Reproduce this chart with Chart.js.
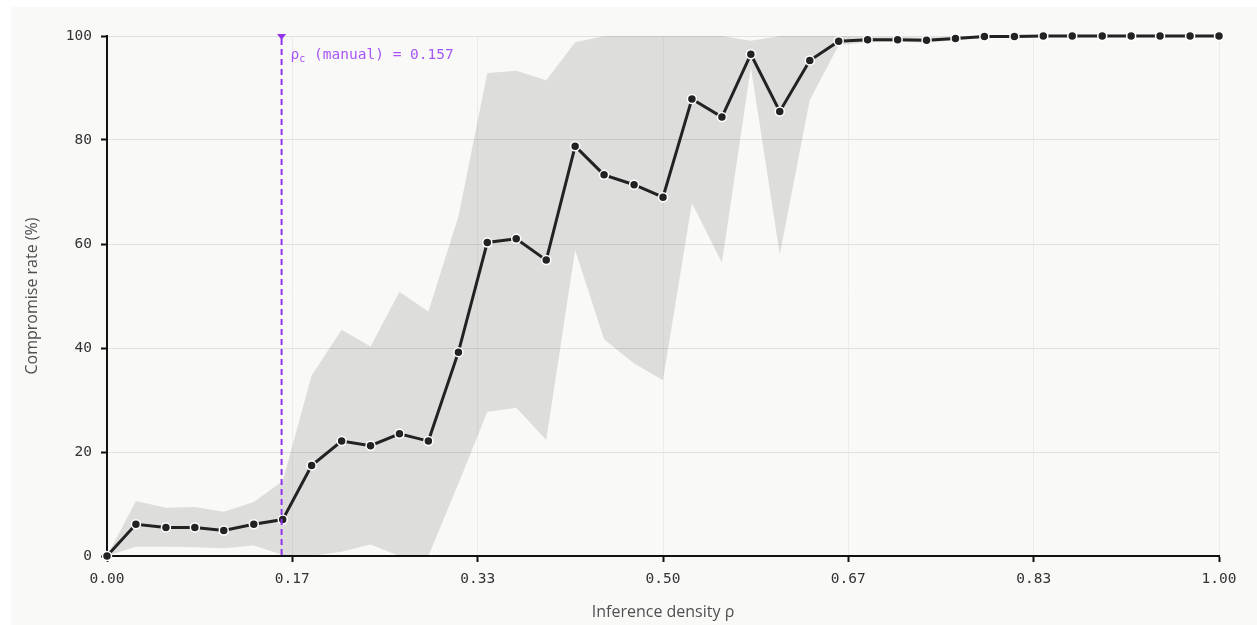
<!DOCTYPE html>
<html>
<head>
<meta charset="utf-8">
<script src="https://cdn.jsdelivr.net/npm/chart.js@4.4.1/dist/chart.umd.min.js"></script>
<style>
  html, body { margin: 0; padding: 0; background: #ffffff; }
  #panel {
    position: absolute; left: 11px; top: 7px;
    width: 1246px; height: 618px;
    background: #f9f9f8;
  }
  #chart { display: block; }
</style>
</head>
<body>
<div id="panel"><canvas id="chart" width="1246" height="618"></canvas></div>
<script>
// Inference density sweep (x) and compromise rate statistics (%)
const density = [0, 0.026, 0.053, 0.079, 0.105, 0.132, 0.158, 0.184, 0.211, 0.237,
  0.263, 0.289, 0.316, 0.342, 0.368, 0.395, 0.421, 0.447, 0.474, 0.5,
  0.526, 0.553, 0.579, 0.605, 0.632, 0.658, 0.684, 0.711, 0.737, 0.763,
  0.789, 0.816, 0.842, 0.868, 0.895, 0.921, 0.947, 0.974, 1];

const meanRate = [0, 6.1, 5.5, 5.5, 4.9, 6.1, 7.0, 17.4, 22.1, 21.2,
  23.5, 22.1, 39.2, 60.3, 61.0, 56.9, 78.8, 73.3, 71.4, 69.0,
  87.9, 84.4, 96.5, 85.5, 95.3, 99.0, 99.3, 99.3, 99.2, 99.5,
  99.9, 99.9, 100, 100, 100, 100, 100, 100, 100];

const upperRate = [0, 10.6, 9.3, 9.4, 8.5, 10.4, 14.4, 34.7, 43.5, 40.3,
  50.8, 47.0, 65.3, 92.9, 93.3, 91.5, 98.8, 100, 100, 100,
  100, 100, 99.1, 100, 100, 100, 99.8, 99.8, 99.7, 99.9,
  100, 100, 100, 100, 100, 100, 100, 100, 100];

const lowerRate = [0, 1.8, 1.8, 1.7, 1.5, 2.0, 0.2, 0, 0.8, 2.2,
  0, 0, 13.9, 27.7, 28.5, 22.3, 58.8, 41.7, 37.0, 33.8,
  67.9, 56.4, 94.0, 58.0, 87.7, 98.2, 98.8, 98.9, 98.7, 99.2,
  99.7, 99.8, 100, 100, 100, 100, 100, 100, 100];

const xTickValues = [0, 1 / 6, 2 / 6, 3 / 6, 4 / 6, 5 / 6, 1];
const yTickValues = [0, 20, 40, 60, 80, 100];

const rhoCritical = 0.157;

const monoFont = '"DejaVu Sans Mono", monospace';
const sansFont = '"Open Sans", "Noto Sans", sans-serif';

const toPoints = (ys) => density.map((x, i) => ({ x: x, y: ys[i] }));

// Dashed marker for the manually chosen critical density
const criticalMarker = {
  id: 'criticalMarker',
  afterDatasetsDraw(chart) {
    const { ctx, chartArea, scales } = chart;
    const x = scales.x.getPixelForValue(rhoCritical);
    const top = chartArea.top;
    ctx.save();
    ctx.strokeStyle = '#9333ea';
    ctx.lineWidth = 2;
    ctx.setLineDash([6, 4]);
    ctx.beginPath();
    ctx.moveTo(x, top + 3);
    ctx.lineTo(x, chartArea.bottom);
    ctx.stroke();
    ctx.setLineDash([]);
    ctx.fillStyle = '#9333ea';
    ctx.beginPath();
    ctx.moveTo(x - 4.5, top - 2);
    ctx.lineTo(x + 4.5, top - 2);
    ctx.lineTo(x, top + 4);
    ctx.closePath();
    ctx.fill();

    // label: ρ_c (manual) = 0.157
    ctx.fillStyle = '#a855f7';
    ctx.textBaseline = 'alphabetic';
    ctx.textAlign = 'left';
    const tx = x + 9;
    const ty = top + 23;
    ctx.font = '14.5px ' + monoFont;
    ctx.fillText('ρ', tx, ty);
    const w1 = ctx.measureText('ρ').width;
    ctx.font = '10px ' + monoFont;
    ctx.fillText('c', tx + w1, ty + 3);
    const w2 = ctx.measureText('c').width;
    ctx.font = '14.5px ' + monoFont;
    ctx.fillText(' (manual) = ' + rhoCritical.toFixed(3), tx + w1 + w2, ty);
    ctx.restore();
  }
};

new Chart(document.getElementById('chart'), {
  type: 'line',
  data: {
    datasets: [
      {
        label: 'Compromise rate',
        data: toPoints(meanRate),
        borderColor: '#222222',
        borderWidth: 3,
        pointRadius: 4.5,
        pointBackgroundColor: '#222222',
        pointBorderColor: '#ffffff',
        pointBorderWidth: 1.5,
        fill: false,
        clip: false,
        tension: 0
      },
      {
        label: 'Upper',
        data: toPoints(upperRate),
        borderWidth: 0,
        borderColor: 'rgba(0,0,0,0)',
        pointRadius: 0,
        backgroundColor: 'rgba(0,0,0,0.11)',
        fill: '+1',
        tension: 0
      },
      {
        label: 'Lower',
        data: toPoints(lowerRate),
        borderWidth: 0,
        borderColor: 'rgba(0,0,0,0)',
        pointRadius: 0,
        fill: false,
        tension: 0
      }
    ]
  },
  options: {
    responsive: false,
    animation: false,
    layout: { padding: { left: 0, right: 38, top: 29, bottom: 0 } },
    plugins: {
      legend: { display: false },
      tooltip: { enabled: false }
    },
    scales: {
      x: {
        type: 'linear',
        min: 0,
        max: 1,
        afterBuildTicks(scale) { scale.ticks = xTickValues.map(v => ({ value: v })); },
        afterFit(scale) { scale.height = 69; },
        grid: { color: '#ececeb', lineWidth: 1, tickLength: 6, tickColor: '#111111', tickWidth: 2 },
        border: { color: '#111111', width: 2 },
        ticks: {
          padding: 9,
          color: '#333333',
          font: { family: monoFont, size: 14.5 },
          maxRotation: 0,
          callback: (v) => Number(v).toFixed(2)
        },
        title: {
          display: true,
          text: 'Inference density ρ',
          color: '#505050',
          font: { family: sansFont, size: 16 },
          padding: { top: 0, bottom: 3 }
        }
      },
      y: {
        min: 0,
        max: 100,
        afterBuildTicks(scale) { scale.ticks = yTickValues.map(v => ({ value: v })); },
        afterFit(scale) { scale.width = 96; },
        grid: { color: '#e0e0df', lineWidth: 1, tickLength: 6, tickColor: '#111111', tickWidth: 2 },
        border: { color: '#111111', width: 2 },
        ticks: {
          padding: 9,
          color: '#333333',
          font: { family: monoFont, size: 14.5 }
        },
        title: {
          display: true,
          text: 'Compromise rate (%)',
          color: '#505050',
          font: { family: sansFont, size: 16 },
          padding: { top: 12, bottom: 0 }
        }
      }
    }
  },
  plugins: [criticalMarker]
});
</script>
</body>
</html>
